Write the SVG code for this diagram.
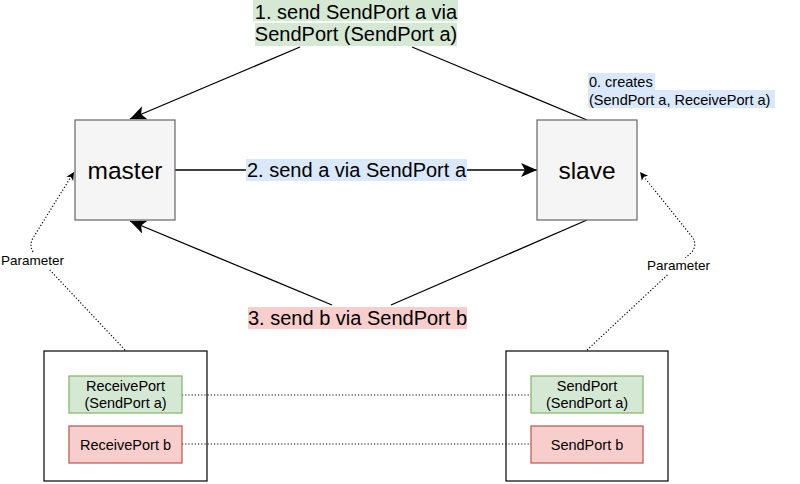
<svg xmlns="http://www.w3.org/2000/svg" width="800" height="484" viewBox="0 0 800 484">
<defs>
<marker id="arr" markerUnits="userSpaceOnUse" markerWidth="20" markerHeight="16" viewBox="-17 -8 18 16" refX="0" refY="0" orient="auto">
<path d="M0,0 L-16,-7 L-12,0 L-16,7 Z" fill="#000"/>
</marker>
<marker id="arrs" markerUnits="userSpaceOnUse" markerWidth="12" markerHeight="10" viewBox="-9 -5 10 10" refX="0" refY="0" orient="auto">
<path d="M0,0 L-8,-4 L-6,0 L-8,4 Z" fill="#000"/>
</marker>
<style>
.t{font-family:"Liberation Sans",Arial,sans-serif;fill:#000;}
.node{fill:#f5f5f5;stroke:#666;stroke-width:1.2;}
.outer{fill:#fff;stroke:#000;stroke-width:1.2;}
.green{fill:#d5e8d4;stroke:#82b366;stroke-width:1.2;}
.red{fill:#f8cecc;stroke:#b85450;stroke-width:1.2;}
.edge{fill:none;stroke:#000;stroke-width:1.3;}
.dot{fill:none;stroke:#000;stroke-width:1.2;stroke-dasharray:1.2 2;}
</style>
</defs>
<rect width="800" height="484" fill="#fff"/>
<g id="master-ports">
<rect class="outer" x="44" y="351" width="163" height="130"/>
</g>
<g id="slave-ports">
<rect class="outer" x="506" y="351" width="162" height="130"/>
</g>
<g id="connectors">
<path class="edge" d="M587,120 L412,47"/>
<path class="edge" d="M300,47 L130,119" marker-end="url(#arr)"/>
<path class="edge" d="M175,170 L537,170" marker-end="url(#arr)"/>
<path class="edge" d="M587,220 L391,305"/>
<path class="edge" d="M332,305 L130,221" marker-end="url(#arr)"/>
<path class="dot" d="M125,350 L33,252 Q29,245 33,238 L74,172" marker-end="url(#arrs)"/>
<path class="dot" d="M587,350 L692,252 Q697,245 693,238 L640,172" marker-end="url(#arrs)"/>
<path class="dot" d="M182,395 L531,395"/>
<path class="dot" d="M182,444 L531,444"/>
</g>
<g id="label1">
<rect x="253" y="0" width="205" height="21" fill="#d5e8d4"/>
<rect x="255" y="23" width="202" height="23" fill="#d5e8d4"/>
<text class="t" x="356" y="18.5" font-size="20" text-anchor="middle">1. send SendPort a via</text>
<text class="t" x="356" y="40.5" font-size="20" text-anchor="middle">SendPort (SendPort a)</text>
</g>
<g id="label2">
<rect x="246" y="159" width="221" height="22" fill="#dae8fc"/>
<text class="t" x="356.5" y="177" font-size="20" text-anchor="middle">2. send a via SendPort a</text>
</g>
<g id="label3">
<rect x="248" y="307" width="219" height="22" fill="#f8cecc"/>
<text class="t" x="357.5" y="325" font-size="20" text-anchor="middle">3. send b via SendPort b</text>
</g>
<g id="label0">
<rect x="588" y="73" width="67" height="17" fill="#dae8fc"/>
<rect x="588" y="90" width="187" height="18" fill="#dae8fc"/>
<text class="t" x="589" y="86.5" font-size="14.5">0. creates</text>
<text class="t" x="589" y="104.5" font-size="14.5">(SendPort a, ReceivePort a)</text>
</g>
<g id="param-left">
<rect x="1" y="253" width="63" height="16" fill="#fff"/>
<text class="t" x="32.5" y="265" font-size="13.5" text-anchor="middle">Parameter</text>
</g>
<g id="param-right">
<rect x="647" y="258" width="63" height="16" fill="#fff"/>
<text class="t" x="678.5" y="270" font-size="13.5" text-anchor="middle">Parameter</text>
</g>
<g id="master">
<rect class="node" x="75" y="120" width="100" height="100"/>
<text class="t" x="125" y="178.5" font-size="24.5" text-anchor="middle">master</text>
</g>
<g id="slave">
<rect class="node" x="537" y="120" width="100" height="100"/>
<text class="t" x="587" y="178.5" font-size="24.5" text-anchor="middle">slave</text>
</g>
<g id="receiveport-a">
<rect class="green" x="69" y="376" width="113" height="37"/>
<text class="t" x="125.5" y="391" font-size="14.5" text-anchor="middle">ReceivePort</text>
<text class="t" x="125.5" y="408" font-size="14.5" text-anchor="middle">(SendPort a)</text>
</g>
<g id="receiveport-b">
<rect class="red" x="69" y="426" width="113" height="37"/>
<text class="t" x="125.5" y="449.5" font-size="14.5" text-anchor="middle">ReceivePort b</text>
</g>
<g id="sendport-a">
<rect class="green" x="531" y="376" width="112" height="37"/>
<text class="t" x="587" y="391" font-size="14.5" text-anchor="middle">SendPort</text>
<text class="t" x="587" y="408" font-size="14.5" text-anchor="middle">(SendPort a)</text>
</g>
<g id="sendport-b">
<rect class="red" x="531" y="426" width="112" height="37"/>
<text class="t" x="587" y="449.5" font-size="14.5" text-anchor="middle">SendPort b</text>
</g>
</svg>
